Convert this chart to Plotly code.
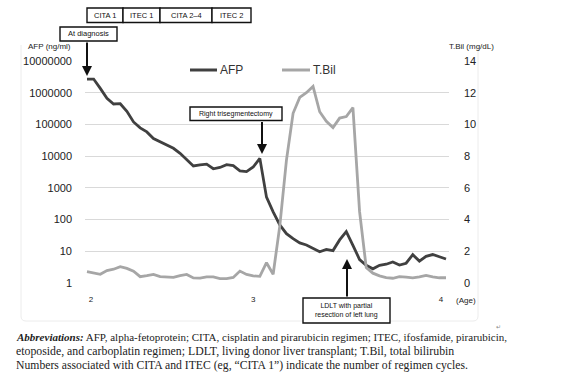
import plotly.graph_objects as go

# ---------------- data ----------------
visit_index = list(range(55))
afp_values = [2.7e6, 2.7e6, 1.37e6, 6.7e5, 4.4e5, 4.5e5, 2.6e5, 1.2e5, 7.8e4, 5.8e4,
              3.6e4, 2.8e4, 2.25e4, 1.77e4, 1.23e4, 7600, 4900, 5300, 5600, 4000,
              4400, 5400, 5000, 3450, 3250, 4550, 8500, 510, 174, 68,
              36, 25, 18.3, 15.8, 12.5, 9.7, 11.4, 10.5, 22.8, 42,
              15.4, 5.5, 3.6, 2.8, 3.6, 3.9, 4.6, 3.7, 4.2, 7.8,
              4.9, 6.9, 7.9, 6.8, 5.7]
tbil_values = [0.71, 0.61, 0.55, 0.78, 0.87, 1.03, 0.92, 0.74, 0.40, 0.46,
               0.54, 0.40, 0.36, 0.36, 0.47, 0.54, 0.32, 0.31, 0.38, 0.38,
               0.28, 0.28, 0.35, 0.75, 0.54, 0.45, 0.42, 1.28, 0.55, 3.6,
               7.75, 10.7, 11.7, 12.0, 12.4, 10.8, 10.2, 9.8, 10.4, 10.5,
               11.06, 4.5, 0.97, 0.62, 0.45, 0.34, 0.30, 0.40, 0.37, 0.32,
               0.38, 0.48, 0.38, 0.33, 0.33]
age_tick_labels = ["2", "3", "4"]
age_tick_index = [0.6, 25.0, 53.25]
afp_ticks = [1, 10, 100, 1000, 10000, 100000, 1000000, 10000000]
tbil_ticks = [0, 2, 4, 6, 8, 10, 12, 14]
regimens = ["CITA 1", "ITEC 1", "CITA 2\u20134", "ITEC 2"]
regimen_edges = [87, 123, 160, 212, 251]   # pixel edges of the regimen boxes

# ---------------- geometry helpers ----------------
W, H = 575, 383
L, R, T, B = 85, 449, 61, 283


def px(x):
    return (x - L) / (R - L)


def py(y):
    return (B - y) / (B - T)


AFP_COLOR = "#404040"
TBIL_COLOR = "#a6a6a6"
SANS = "Liberation Sans, Arial, sans-serif"
SERIF = "Liberation Serif, Times New Roman, serif"

fig = go.Figure()
fig.add_trace(go.Scatter(x=visit_index, y=afp_values, mode="lines", name="AFP",
                         line=dict(color=AFP_COLOR, width=2.8), yaxis="y"))
fig.add_trace(go.Scatter(x=visit_index, y=tbil_values, mode="lines", name="T.Bil",
                         line=dict(color=TBIL_COLOR, width=2.8), yaxis="y2"))

shapes = []
annotations = []

# faint outer frame of the figure image
shapes.append(dict(type="path", xref="paper", yref="paper",
                   path=f"M {px(21)},{py(45)} L {px(21)},{py(316)} Q {px(21)},{py(321)} {px(26)},{py(321)} "
                        f"L {px(473)},{py(321)} Q {px(478)},{py(321)} {px(478)},{py(316)} L {px(478)},{py(45)}",
                   line=dict(color="#ececec", width=1)))

# regimen boxes
for i, name in enumerate(regimens):
    x0, x1 = regimen_edges[i], regimen_edges[i + 1]
    shapes.append(dict(type="rect", xref="paper", yref="paper",
                       x0=px(x0), x1=px(x1), y0=py(22.5), y1=py(8),
                       line=dict(color="#111", width=1.4), fillcolor="white"))
    annotations.append(dict(xref="paper", yref="paper", x=px((x0 + x1) / 2), y=py(15.5),
                            text=name, showarrow=False, xanchor="center", yanchor="middle",
                            font=dict(family=SANS, size=7.5, color="#111")))


def box(x0, x1, y0, y1, lines, size=7.5):
    shapes.append(dict(type="rect", xref="paper", yref="paper",
                       x0=px(x0), x1=px(x1), y0=py(y1), y1=py(y0),
                       line=dict(color="#111", width=1.4), fillcolor="white"))
    annotations.append(dict(xref="paper", yref="paper", x=px((x0 + x1) / 2), y=py((y0 + y1) / 2),
                            text="<br>".join(lines), showarrow=False, xanchor="center",
                            yanchor="middle", font=dict(family=SANS, size=size, color="#111")))


def arrow(x, y_tail, y_head):
    annotations.append(dict(xref="paper", yref="paper", x=px(x), y=py(y_head),
                            axref="pixel", ayref="pixel", ax=0, ay=y_tail - y_head,
                            text="", showarrow=True, arrowhead=2, arrowsize=1,
                            arrowwidth=2, arrowcolor="#111"))


box(60, 117, 27, 41, ["At diagnosis"])
arrow(87, 41, 76)
box(190, 282, 107, 120.5, ["Right trisegmentectomy"], size=7)
arrow(262, 120.5, 154)
box(303, 390, 298, 323, ["LDLT with partial", "resection of left lung"], size=7)
arrow(347, 298, 259)

# axis titles
annotations.append(dict(xref="paper", yref="paper", x=px(73), y=py(47), text="AFP (ng/ml)",
                        showarrow=False, xanchor="right", yanchor="middle",
                        font=dict(family=SANS, size=8, color="#222")))
annotations.append(dict(xref="paper", yref="paper", x=px(447), y=py(47), text="T.Bil (mg/dL)",
                        showarrow=False, xanchor="left", yanchor="middle",
                        font=dict(family=SANS, size=8, color="#222")))
annotations.append(dict(xref="paper", yref="paper", x=px(466), y=py(300), text="(Age)",
                        showarrow=False, xanchor="center", yanchor="middle",
                        font=dict(family=SANS, size=8, color="#222")))

# manual legend
for (x0, x1, tx, name, col) in [(190, 217, 218, "AFP", AFP_COLOR), (282, 310, 311, "T.Bil", TBIL_COLOR)]:
    shapes.append(dict(type="line", xref="paper", yref="paper", x0=px(x0), x1=px(x1),
                       y0=py(70), y1=py(70), line=dict(color=col, width=3)))
    annotations.append(dict(xref="paper", yref="paper", x=px(tx), y=py(70), text=name,
                            showarrow=False, xanchor="left", yanchor="middle",
                            font=dict(family=SANS, size=12, color="#333")))

# caption
caption = [
    "<b><i>Abbreviations:</i></b> AFP, alpha-fetoprotein; CITA, cisplatin and pirarubicin regimen; ITEC, ifosfamide, pirarubicin,",
    "etoposide, and carboplatin regimen; LDLT, living donor liver transplant; T.Bil, total bilirubin",
    "Numbers associated with CITA and ITEC (eg, \u201cCITA 1\u201d) indicate the number of regimen cycles.",
]
caption_sizes = [11, 11.8, 11.7]
for yy, line, sz in zip([337, 351, 365], caption, caption_sizes):
    annotations.append(dict(xref="paper", yref="paper", x=px(14), y=py(yy), text=line,
                            showarrow=False, xanchor="left", yanchor="middle",
                            font=dict(family=SERIF, size=sz, color="#222")))
annotations.append(dict(xref="paper", yref="paper", x=px(498), y=py(327), text="\u21b5",
                        showarrow=False, xanchor="center", yanchor="middle",
                        font=dict(family=SANS, size=6, color="#888")))

fig.update_layout(
    width=W, height=H,
    margin=dict(l=L, r=W - R, t=T, b=H - B, pad=0),
    paper_bgcolor="white", plot_bgcolor="white",
    showlegend=False, hovermode=False,
    shapes=shapes, annotations=annotations,
    xaxis=dict(range=[-0.3, 54.45], showgrid=False, zeroline=False, showline=False,
               tickmode="array", tickvals=age_tick_index, ticktext=age_tick_labels,
               ticks="", ticklabelstandoff=10,
               tickfont=dict(family=SANS, size=8, color="#222")),
    yaxis=dict(type="log", range=[0, 7], tickmode="array", tickvals=afp_ticks,
               ticktext=[str(v) for v in afp_ticks], showgrid=True, gridcolor="#d9d9d9",
               gridwidth=1, zeroline=False, showline=False, ticks="", ticklabelstandoff=12,
               tickfont=dict(family=SANS, size=11, color="#222")),
    yaxis2=dict(overlaying="y", side="right", range=[0, 14], tickmode="array",
                tickvals=tbil_ticks, showgrid=False, zeroline=False, showline=False,
                ticks="", ticklabelstandoff=14,
                tickfont=dict(family=SANS, size=11, color="#222")),
)

fig.write_html("out.html", config={"displayModeBar": False},
               post_script="document.body.style.margin='0';")
